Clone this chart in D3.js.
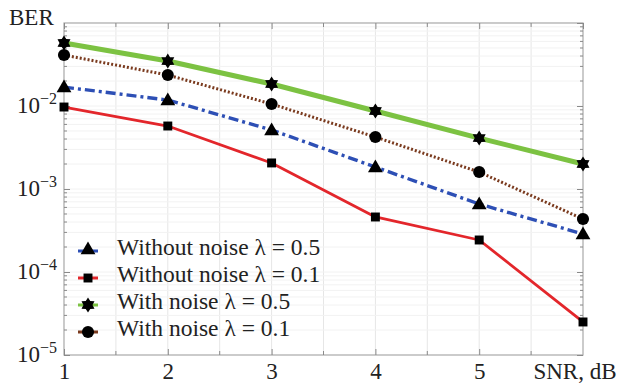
<!DOCTYPE html>
<html><head><meta charset="utf-8">
<script src="https://cdn.jsdelivr.net/npm/d3@7"></script>
<style>
html,body{margin:0;padding:0;background:#fff;}
svg{display:block;font-family:'Liberation Serif','Times New Roman',serif;}
</style></head>
<body>
<svg id="chart" width="620" height="389"></svg>
<script>
const snr = [1, 2, 3, 4, 5, 6];
const withoutNoise05 = [0.0169, 0.0118, 0.00514, 0.00184, 0.000659, 0.000287];
const withoutNoise01 = [0.00972, 0.00574, 0.00206, 0.00046, 0.000243, 0.000025];
const withNoise05 = [0.0574, 0.0348, 0.0184, 0.0087, 0.00411, 0.0020];
const withNoise01 = [0.0411, 0.0236, 0.01057, 0.00423, 0.0016, 0.000435];
const xTicks = [1, 2, 3, 4, 5];
const yTicks = [1e-5, 1e-4, 1e-3, 1e-2];
const seriesNames = ["Without noise \u03bb = 0.5", "Without noise \u03bb = 0.1", "With noise \u03bb = 0.5", "With noise \u03bb = 0.1"];

const series = [
  {name: seriesNames[0], values: withoutNoise05, color: "#2d4fb5", width: 3.4, dash: "10,4,3,4", marker: "triangle"},
  {name: seriesNames[1], values: withoutNoise01, color: "#e3262b", width: 2.8, dash: null, marker: "square"},
  {name: seriesNames[2], values: withNoise05, color: "#7cc242", width: 5, dash: null, marker: "star"},
  {name: seriesNames[3], values: withNoise01, color: "#7a3a1e", width: 3, dash: "2,2", marker: "circle"}
];

const FF = "'Liberation Serif','Times New Roman',serif";
const svg = d3.select("#chart");
const L = 64, R = 583, T = 23, B = 355;
const x = d3.scaleLinear().domain([1, 6]).range([L, R]);
const y = d3.scaleLog().domain([1e-5, 1e-1]).range([B, T]);

// grid
const grid = svg.append("g");
const xGrid = d3.range(1.5, 6, 0.5);
grid.selectAll("line.vg").data(xGrid).enter().append("line")
  .attr("x1", d => x(d)).attr("x2", d => x(d)).attr("y1", T).attr("y2", B)
  .attr("stroke", "#e6e6e6").attr("stroke-width", 1);
const minors = [];
for (let e = -5; e < -1; e++) for (let m = 1; m <= 9; m++) minors.push(m * Math.pow(10, e));
grid.selectAll("line.hg").data(minors.filter(d => d > 1e-5)).enter().append("line")
  .attr("x1", L).attr("x2", R).attr("y1", d => y(d)).attr("y2", d => y(d))
  .attr("stroke", "#f2f2f2").attr("stroke-width", 1);

// frame
svg.append("rect").attr("x", L).attr("y", T).attr("width", R - L).attr("height", B - T)
  .attr("fill", "none").attr("stroke", "#a8a8a8").attr("stroke-width", 1.2);

// axes
const xAxis = svg.append("g").attr("transform", `translate(0,${B})`)
  .call(d3.axisBottom(x).tickValues(xTicks).tickSize(-6).tickPadding(14).tickFormat(d3.format("d")));
const xAxisTop = svg.append("g").attr("transform", `translate(0,${T})`)
  .call(d3.axisTop(x).tickValues(xTicks.concat([6])).tickSize(-6).tickFormat(""));
const yAxis = svg.append("g").attr("transform", `translate(${L},0)`)
  .call(d3.axisLeft(y).tickValues(yTicks).tickSize(-6).tickPadding(8).tickFormat(d => "10"));
const yAxisR = svg.append("g").attr("transform", `translate(${R},0)`)
  .call(d3.axisRight(y).tickValues(yTicks.concat([1e-1])).tickSize(-6).tickFormat(""));
[xAxis, xAxisTop, yAxis, yAxisR].forEach(g => {
  g.select(".domain").remove();
  g.selectAll(".tick line").attr("stroke", "#8a8a8a");
  g.selectAll("text").attr("fill", "#222").attr("font-size", 23).attr("font-family", FF);
});
xAxis.selectAll(".tick text").attr("dy", "0").attr("y", 24);
yAxis.selectAll(".tick text").each(function(d) {
  const t = d3.select(this);
  const e = Math.round(Math.log10(d));
  t.text("").attr("x", -7).attr("dy", "0").attr("y", 5)
    .attr("transform", "scale(1,1.08)");
  t.append("tspan").text("10");
  t.append("tspan").attr("font-size", 16).attr("dy", "-9").text("\u2212" + Math.abs(e));
});
yAxis.selectAll(".tick").each(function(d) {
  d3.select(this).select("text").attr("transform", null).attr("y", 6);
});

// minor ticks
const minorG = svg.append("g").attr("stroke", "#8a8a8a").attr("stroke-width", 1);
const yMinor = minors.filter(d => !yTicks.includes(d) && d > 1e-5);
[L, R].forEach((px, i) => {
  minorG.selectAll(null).data(yMinor).enter().append("line")
    .attr("x1", px).attr("x2", px + (i === 0 ? 3 : -3))
    .attr("y1", d => y(d)).attr("y2", d => y(d));
});
[B, T].forEach((py, i) => {
  minorG.selectAll(null).data(xGrid.filter(d => d % 1 !== 0)).enter().append("line")
    .attr("y1", py).attr("y2", py + (i === 0 ? -4 : 4))
    .attr("x1", d => x(d)).attr("x2", d => x(d));
});

// axis titles
svg.append("text").attr("x", 9).attr("y", 25).attr("font-size", 23).attr("font-family", FF).attr("fill", "#222").text("BER");
svg.append("text").attr("x", x(6) - 8).attr("y", B + 24).attr("font-size", 23).attr("font-family", FF).attr("fill", "#222")
  .attr("text-anchor", "middle").text("SNR, dB");

// lines
const line = d3.line().x((d, i) => x(snr[i])).y(d => y(d));
const drawOrder = [2, 3, 0, 1];
drawOrder.forEach(k => {
  const s = series[k];
  svg.append("path").attr("d", line(s.values)).attr("fill", "none")
    .attr("stroke", s.color).attr("stroke-width", s.width)
    .attr("stroke-dasharray", s.dash).attr("stroke-linejoin", "round");
});

// markers
const sym = {
  triangle: d3.symbol().type(d3.symbolTriangle).size(95),
  square: d3.symbol().type(d3.symbolSquare).size(80),
  circle: d3.symbol().type(d3.symbolCircle).size(115)
};
function star6(r) {
  const pts = [];
  for (let i = 0; i < 12; i++) {
    const a = -Math.PI / 2 + i * Math.PI / 6;
    const rr = i % 2 === 0 ? r : r * 0.6;
    pts.push([rr * Math.cos(a), rr * Math.sin(a)]);
  }
  return "M" + pts.map(p => p.join(",")).join("L") + "Z";
}
function markerPath(m) { return m === "star" ? star6(7.5) : sym[m](); }
drawOrder.forEach(k => {
  const s = series[k];
  svg.append("g").selectAll("path").data(s.values).enter().append("path")
    .attr("d", markerPath(s.marker))
    .attr("transform", (d, i) => `translate(${x(snr[i])},${y(d) + (s.marker === "triangle" ? 1 : 0)})`)
    .attr("fill", "#000");
});

// legend
const leg = svg.append("g").attr("transform", "translate(88,251)");
series.forEach((s, i) => {
  const g = leg.append("g").attr("transform", `translate(0,${i * 27})`);
  g.append("line").attr("x1", -10).attr("x2", 10).attr("y1", 0).attr("y2", 0)
    .attr("stroke", s.color).attr("stroke-width", 3);
  g.append("path").attr("d", markerPath(s.marker)).attr("fill", "#000")
    .attr("transform", s.marker === "triangle" ? "translate(0,-1)" : null);
  g.append("text").attr("x", 29).attr("y", 4).attr("font-size", 23.5).attr("font-family", FF)
    .attr("fill", "#222").text(s.name);
});
</script>
</body></html>
